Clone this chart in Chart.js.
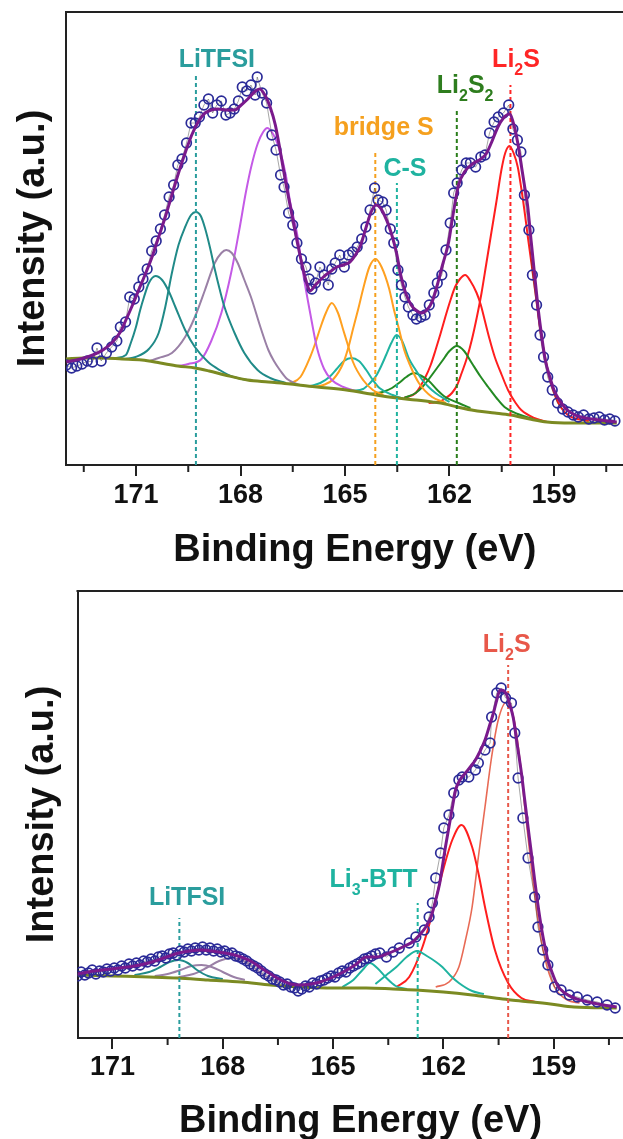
<!DOCTYPE html>
<html>
<head>
<meta charset="utf-8">
<title>S 2p XPS</title>
<script src="https://cdn.jsdelivr.net/npm/chart.js@4.4.1/dist/chart.umd.min.js"></script>
<style>
  html, body { margin: 0; padding: 0; background: #fff; overflow: hidden; }
  #wrap { position: relative; width: 623px; height: 1139px; overflow: hidden; }
  canvas { position: absolute; left: 0; }
  #topChart { top: 0; }
  #bottomChart { top: 578px; }
</style>
</head>
<body>
<div id="wrap">
  <canvas id="topChart" width="650" height="578"></canvas>
  <canvas id="bottomChart" width="650" height="575"></canvas>
</div>
<script>
// Binding energy ticks (eV)
const tickEnergies = [171, 168, 165, 162, 159];
const minorTickEnergies = [172.5, 169.5, 166.5, 163.5, 160.5, 157.5];

// ---------- top panel: [eV, intensity] ----------
const topMeasured = [[173.0,100],[172.85,97],[172.7,99],[172.55,101],[172.4,104],[172.25,103],[172.12,117],[172.0,104],[171.85,112],[171.7,118],[171.55,124],[171.45,138],[171.3,143],[171.18,168],[171.05,166],[170.92,178],[170.8,186],[170.68,196],[170.55,214],[170.42,224],[170.3,236],[170.18,250],[170.05,268],[169.92,280],[169.8,300],[169.68,306],[169.55,322],[169.42,342],[169.3,342],[169.18,348],[169.05,360],[168.92,366],[168.8,352],[168.68,360],[168.55,364],[168.42,350],[168.3,352],[168.18,356],[168.06,364],[167.95,378],[167.82,374],[167.7,380],[167.58,370],[167.52,388],[167.38,372],[167.25,362],[167.1,330],[166.98,315],[166.85,290],[166.75,278],[166.62,252],[166.5,240],[166.38,222],[166.25,206],[166.12,198],[166.03,186],[165.95,176],[165.85,182],[165.72,198],[165.6,190],[165.48,180],[165.38,196],[165.28,202],[165.15,210],[165.02,198],[164.9,210],[164.78,213],[164.65,218],[164.52,226],[164.4,238],[164.28,255],[164.15,277],[164.05,265],[163.92,263],[163.82,255],[163.7,236],[163.6,222],[163.48,195],[163.38,180],[163.28,168],[163.18,158],[163.05,150],[162.95,146],[162.82,148],[162.7,150],[162.58,160],[162.45,172],[162.35,182],[162.22,190],[162.1,215],[161.98,242],[161.88,272],[161.78,282],[161.65,295],[161.52,302],[161.4,302],[161.25,298],[161.1,308],[160.98,310],[160.85,332],[160.72,343],[160.6,348],[160.45,352],[160.3,360],[160.18,336],[160.05,325],[159.95,313],[159.85,270],[159.72,235],[159.62,190],[159.5,160],[159.4,130],[159.3,108],[159.18,88],[159.05,75],[158.9,62],[158.75,56],[158.6,53],[158.45,50],[158.3,48],[158.15,50],[158.0,46],[157.85,47],[157.7,48],[157.55,45],[157.4,46],[157.25,44]];
const topEnvelope = [[173.0,103],[172.6,106],[172.24,110],[171.95,115],[171.67,123],[171.45,133],[171.29,145],[171.1,160],[170.91,176],[170.72,192],[170.54,208],[170.35,228],[170.16,248],[169.97,270],[169.78,292],[169.59,312],[169.4,330],[169.2,344],[169.02,352],[168.84,355],[168.65,356],[168.4,355],[168.17,355],[167.98,360],[167.79,366],[167.6,373],[167.45,376],[167.3,370],[167.15,358],[167.0,340],[166.85,312],[166.7,282],[166.55,255],[166.4,228],[166.25,203],[166.1,182],[166.0,174],[165.85,180],[165.62,188],[165.4,194],[165.24,198],[165.05,200],[164.86,203],[164.7,210],[164.55,220],[164.4,237],[164.25,253],[164.11,260],[163.98,257],[163.87,250],[163.75,240],[163.63,227],[163.52,212],[163.4,190],[163.26,172],[163.1,160],[162.97,155],[162.8,152],[162.65,155],[162.5,163],[162.35,180],[162.2,200],[162.03,222],[161.9,250],[161.74,280],[161.55,294],[161.3,302],[161.1,306],[160.95,311],[160.8,322],[160.61,338],[160.45,347],[160.28,351],[160.15,340],[160.04,322],[159.94,300],[159.85,280],[159.76,260],[159.65,222],[159.55,188],[159.45,155],[159.35,128],[159.25,105],[159.12,88],[159.0,75],[158.85,65],[158.65,56],[158.4,50],[158.1,47],[157.7,45],[157.2,43]];
const topBackground = [[173.01,106],[172.5,107],[172.0,107],[171.4,106],[170.83,105],[170.3,102],[169.8,99],[169.3,97],[168.9,94],[168.45,90],[167.8,85],[167.2,83],[166.57,81],[165.8,78],[164.96,75],[164.11,70],[163.5,67],[162.97,65],[162.5,63],[162.12,61],[161.78,58],[161.2,54],[160.7,52],[160.25,50],[159.7,46],[159.2,43],[158.5,42],[157.2,42]];
const topLiTFSIa = [[171.6,107],[171.29,110],[171.15,122],[171.01,137],[170.88,155],[170.77,168],[170.63,182],[170.44,189],[170.25,185],[170.05,173],[169.87,158],[169.59,135],[169.31,118],[168.93,103],[168.6,95],[168.2,88],[167.8,85]];
const topLiTFSIb = [[171.3,106],[171.01,108],[170.63,116],[170.35,132],[170.16,158],[169.97,192],[169.78,220],[169.59,238],[169.42,250],[169.28,253],[169.14,249],[169.02,237],[168.88,218],[168.74,196],[168.6,176],[168.46,158],[168.17,132],[167.89,112],[167.51,95],[167.15,87],[166.7,82]];
const topMauve = [[170.6,104],[170.35,107],[169.97,112],[169.59,128],[169.31,148],[169.02,175],[168.74,202],[168.55,212],[168.41,215],[168.25,212],[168.08,202],[167.9,186],[167.7,168],[167.42,137],[167.2,115],[167.04,104],[166.85,94],[166.66,86],[166.3,80]];
const topViolet = [[169.8,99],[169.5,101],[169.12,106],[168.84,124],[168.55,152],[168.27,192],[168.02,238],[167.85,272],[167.68,300],[167.5,322],[167.35,333],[167.23,337],[167.05,330],[166.85,312],[166.7,290],[166.57,262],[166.38,232],[166.19,189],[166.0,152],[165.81,118],[165.6,96],[165.38,85],[165.05,78],[164.7,74]];
const topOrangeA = [[166.6,81],[166.28,88],[166.0,108],[165.85,122],[165.71,137],[165.55,152],[165.38,162],[165.2,152],[165.05,135],[164.9,118],[164.77,103],[164.48,85],[164.2,75],[163.9,70]];
const topBridgeS = [[165.9,78],[165.62,80],[165.33,86],[165.05,102],[164.9,118],[164.77,136],[164.62,156],[164.48,176],[164.3,198],[164.12,206],[163.95,198],[163.73,176],[163.6,156],[163.45,136],[163.3,115],[163.16,102],[162.88,82],[162.5,68],[162.1,62]];
const topTealA = [[166.0,79],[165.71,82],[165.45,88],[165.24,96],[165.03,104],[164.82,107],[164.6,104],[164.39,95],[164.2,85],[164.01,77],[163.63,70],[163.3,66]];
const topCS = [[164.8,74],[164.48,76],[164.28,82],[164.11,89],[163.96,99],[163.82,110],[163.67,122],[163.52,130],[163.36,124],[163.16,106],[162.97,95],[162.78,85],[162.6,78],[162.4,72],[162.0,63]];
const topGreenA = [[164.3,71],[163.92,73],[163.65,77],[163.45,82],[163.24,88],[163.02,92],[162.8,89],[162.59,84],[162.35,75],[162.12,68],[161.74,62],[161.4,57]];
const topLi2S2 = [[163.3,67],[162.97,72],[162.78,78],[162.59,86],[162.4,95],[162.21,104],[162.0,114],[161.79,119],[161.58,114],[161.36,102],[161.12,89],[160.89,78],[160.65,67],[160.42,58],[160.04,51],[159.6,46]];
const topRedA = [[163.3,67],[162.97,72],[162.69,88],[162.54,100],[162.4,115],[162.26,131],[162.12,148],[161.98,164],[161.84,178],[161.7,186],[161.55,190],[161.4,184],[161.22,172],[161.1,160],[160.99,145],[160.85,126],[160.7,108],[160.5,90],[160.32,75],[160.1,62],[159.94,55],[159.57,47],[159.2,43]];
const topLi2S = [[162.6,62],[162.31,63],[162.1,67],[161.93,72],[161.78,80],[161.65,92],[161.5,107],[161.36,125],[161.22,147],[161.08,172],[160.94,202],[160.8,232],[160.65,264],[160.51,295],[160.4,312],[160.28,319],[160.16,312],[160.04,298],[159.94,277],[159.85,255],[159.75,228],[159.66,205],[159.56,180],[159.47,155],[159.38,132],[159.28,112],[159.18,95],[159.09,82],[158.95,68],[158.81,58],[158.6,50],[158.43,47],[158.0,44]];

// marker lines (eV) and their top ends (intensity)
const topMarkerNames = ['LiTFSI', 'bridge S', 'C-S', 'Li_2S_2', 'Li_2S'];
const topMarkerEnergies = [169.28, 164.13, 163.51, 161.79, 160.25];
const topMarkerTops = [390, 313, 282, 355, 380];

// ---------- bottom panel ----------
const botMeasured = [[171.95,62],[171.85,66],[171.75,63],[171.65,65],[171.55,68],[171.45,64],[171.35,67],[171.25,66],[171.15,69],[171.05,67],[170.95,70],[170.85,68],[170.75,72],[170.65,70],[170.55,74],[170.45,72],[170.35,75],[170.25,73],[170.15,77],[170.05,76],[169.95,79],[169.85,77],[169.75,81],[169.65,82],[169.55,80],[169.45,84],[169.35,85],[169.25,83],[169.15,87],[169.05,86],[168.95,89],[168.85,87],[168.75,90],[168.65,88],[168.55,91],[168.45,88],[168.35,90],[168.25,87],[168.15,89],[168.05,86],[167.95,87],[167.85,84],[167.75,85],[167.65,82],[167.55,81],[167.45,79],[167.35,77],[167.25,74],[167.15,72],[167.05,70],[166.95,67],[166.85,64],[166.75,62],[166.65,59],[166.55,58],[166.45,56],[166.35,53],[166.25,54],[166.15,51],[166.05,50],[165.95,47],[165.85,49],[165.75,52],[165.65,51],[165.55,55],[165.45,54],[165.35,57],[165.25,58],[165.15,60],[165.05,62],[164.95,61],[164.85,65],[164.75,67],[164.65,66],[164.55,70],[164.45,72],[164.35,74],[164.25,76],[164.15,79],[164.05,80],[163.95,82],[163.85,84],[163.73,85],[163.55,81],[163.37,86],[163.2,90],[162.93,95],[162.75,101],[162.52,108],[162.39,121],[162.3,135],[162.21,160],[162.08,185],[161.99,210],[161.85,223],[161.72,245],[161.58,258],[161.49,261],[161.31,261],[161.13,268],[161.05,275],[160.87,288],[160.73,295],[160.69,321],[160.55,345],[160.43,350],[160.31,340],[160.15,335],[160.06,305],[159.97,260],[159.84,220],[159.7,180],[159.52,141],[159.43,111],[159.3,88],[159.16,73],[158.98,51],[158.8,48],[158.58,43],[158.36,41],[158.09,38],[157.82,36],[157.55,33],[157.33,30]];
const botEnvelope = [[171.95,64],[171.5,67],[170.81,70],[170.4,72],[169.92,76],[169.6,80],[169.2,85],[168.9,87],[168.57,88],[168.3,87],[168.12,86],[167.8,84],[167.5,81],[167.2,76],[166.96,70],[166.7,64],[166.42,58],[166.15,54],[165.88,53],[165.6,54],[165.35,56],[165.0,61],[164.72,66],[164.4,73],[164.09,81],[163.82,81],[163.55,84],[163.28,88],[163.05,92],[162.84,96],[162.65,103],[162.48,111],[162.33,122],[162.21,138],[162.1,155],[162.03,171],[161.95,190],[161.85,211],[161.75,232],[161.67,248],[161.55,258],[161.4,265],[161.25,272],[161.13,278],[161.0,287],[160.87,298],[160.75,312],[160.64,325],[160.55,338],[160.46,348],[160.35,347],[160.28,343],[160.2,334],[160.1,320],[160.0,295],[159.88,265],[159.79,238],[159.7,211],[159.61,185],[159.52,158],[159.43,133],[159.34,111],[159.25,93],[159.16,78],[159.02,63],[158.89,52],[158.7,45],[158.45,40],[158.18,37],[157.8,34],[157.29,31]];
const botBackground = [[171.95,63],[171.0,62],[170.0,61],[169.23,60],[168.4,58],[167.5,56],[166.7,53],[165.9,51],[165.0,50],[164.1,50],[163.37,49],[162.75,48],[162.0,46],[161.22,43],[160.6,40],[160.17,38],[159.6,36],[159.09,34],[158.45,31],[157.29,30]];
const botTeal = [[170.4,63],[170.0,66],[169.7,71],[169.45,76],[169.2,78],[168.95,75],[168.7,68],[168.4,62],[168.0,59]];
const botMauveA = [[169.85,62],[169.5,64],[169.15,68],[168.85,72],[168.58,73],[168.3,71],[168.0,66],[167.7,61],[167.4,58]];
const botMauveB = [[169.2,61],[168.8,64],[168.45,70],[168.1,77],[167.77,80],[167.45,77],[167.15,70],[166.85,62],[166.5,55]];
const botTealA = [[164.75,51],[164.45,58],[164.2,68],[164.0,75],[163.8,70],[163.55,60],[163.3,52],[163.0,49]];
const botLi3BTT = [[163.85,54],[163.55,63],[163.28,71],[163.0,81],[162.72,87],[162.45,82],[162.2,76],[162.03,71],[161.8,62],[161.58,55],[161.22,47],[160.9,44]];
const botRedA = [[163.28,51],[162.93,61],[162.57,91],[162.3,125],[162.03,165],[161.76,198],[161.51,213],[161.22,191],[161.05,165],[160.87,131],[160.6,88],[160.24,55],[159.88,40],[159.5,36]];
const botLi2S = [[162.21,51],[161.85,56],[161.58,71],[161.4,98],[161.22,131],[161.05,181],[160.87,231],[160.69,281],[160.51,318],[160.28,336],[160.06,315],[159.88,265],[159.79,231],[159.61,171],[159.43,118],[159.25,81],[158.98,51],[158.63,38],[158.3,35]];

const botMarkerNames = ['LiTFSI', 'Li_3-BTT', 'Li_2S'];
const botMarkerEnergies = [169.18, 162.70, 160.24];
const botMarkerTops = [120, 135, 373];

const FONT = 'Arial, "Liberation Sans", Helvetica, sans-serif';
const toPts = pairs => pairs.map(([x, y]) => ({ x, y }));

function curve(pairs, color, width) {
    return {
        data: toPts(pairs),
        showLine: true,
        borderColor: color,
        borderWidth: width,
        pointRadius: 0,
        fill: false,
        cubicInterpolationMode: 'monotone'
    };
}

function marker(energy, top, color) {
    return {
        data: [{ x: energy, y: 0 }, { x: energy, y: top }],
        showLine: true,
        borderColor: color,
        borderWidth: 2,
        borderDash: [4, 3],
        pointRadius: 0
    };
}

function circles(pairs) {
    return {
        data: toPts(pairs),
        showLine: true,
        borderColor: 'rgba(50,50,50,0.55)',
        borderWidth: 0.8,
        pointRadius: 4.8,
        pointBorderColor: '#2b2b98',
        pointBorderWidth: 1.7,
        pointBackgroundColor: 'rgba(0,0,0,0)'
    };
}

// draws "Li_2S_2" style text, "_" makes the next char a subscript
function drawRich(ctx, text, cx, baseline, size, color) {
    const parts = [];
    for (let i = 0; i < text.length; i++) {
        if (text[i] === '_' && i + 1 < text.length) { parts.push([text[i + 1], true]); i++; }
        else parts.push([text[i], false]);
    }
    const big = `bold ${size}px ${FONT}`;
    const small = `bold ${Math.round(size * 0.62)}px ${FONT}`;
    let total = 0;
    parts.forEach(([c, sub]) => { ctx.font = sub ? small : big; total += ctx.measureText(c).width; });
    let x = cx - total / 2;
    ctx.fillStyle = color;
    ctx.textBaseline = 'alphabetic';
    ctx.textAlign = 'left';
    parts.forEach(([c, sub]) => {
        ctx.font = sub ? small : big;
        ctx.fillText(c, x, baseline + (sub ? size * 0.3 : 0));
        x += ctx.measureText(c).width;
    });
}

const framePlugin = {
    id: 'frame',
    afterDraw(chart, args, opts) {
        const { ctx, chartArea, scales } = chart;
        ctx.save();
        ctx.strokeStyle = '#222';
        ctx.lineWidth = 2;
        ctx.beginPath();
        ctx.moveTo(chartArea.left - 1, chartArea.top);
        ctx.lineTo(chartArea.right, chartArea.top);
        ctx.stroke();
        minorTickEnergies.forEach(e => {
            const px = scales.x.getPixelForValue(e);
            if (px < chartArea.left || px > chartArea.right) return;
            ctx.beginPath();
            ctx.moveTo(px, chartArea.bottom);
            ctx.lineTo(px, chartArea.bottom + 7);
            ctx.stroke();
        });
        (opts.labels || []).forEach(l => {
            drawRich(ctx, l.text, scales.x.getPixelForValue(l.x), scales.y.getPixelForValue(l.y), l.size, l.color);
        });
        ctx.restore();
    }
};

function makePanel(canvasId, cfg) {
    const canvas = document.getElementById(canvasId);
    return new Chart(canvas.getContext('2d'), {
        type: 'scatter',
        data: { datasets: cfg.datasets },
        options: {
            responsive: false,
            animation: false,
            layout: { padding: { left: 0, top: cfg.areaTop, right: 0, bottom: 0 } },
            plugins: {
                legend: { display: false },
                tooltip: { enabled: false },
                frame: { labels: cfg.labels }
            },
            scales: {
                x: {
                    type: 'linear',
                    reverse: true,
                    min: cfg.xMin,
                    max: cfg.xMax,
                    afterBuildTicks: scale => { scale.ticks = tickEnergies.map(v => ({ value: v })); },
                    afterFit: scale => { scale.height = cfg.xAxisHeight; },
                    grid: { display: true, drawOnChartArea: false, drawTicks: true, tickLength: 11, color: '#222', lineWidth: 2 },
                    border: { display: true, width: 2, color: '#222' },
                    ticks: {
                        autoSkip: false, maxRotation: 0, padding: cfg.tickPad, color: '#111',
                        font: { family: FONT, size: 27, weight: 'bold' }
                    },
                    title: {
                        display: true, text: 'Binding Energy (eV)', color: '#111',
                        font: { family: FONT, size: 38, weight: 'bold' },
                        padding: { top: 0, bottom: cfg.titlePad }
                    }
                },
                y: {
                    type: 'linear',
                    min: 0,
                    max: cfg.yMax,
                    afterFit: scale => { scale.width = cfg.yAxisWidth; },
                    grid: { display: false },
                    border: { display: true, width: 2, color: '#222' },
                    ticks: { display: false },
                    title: {
                        display: true, text: 'Intensity (a.u.)', color: '#111',
                        font: { family: FONT, size: 38, weight: 'bold' },
                        padding: { top: cfg.yTitlePad, bottom: 0 }
                    }
                }
            }
        },
        plugins: [framePlugin]
    });
}

// top panel
const topColors = ['#2a9d9d', '#f5a01e', '#1fb3a0', '#2a7d1a', '#ff2626'];
const topLabelSpots = [[168.68, 398], [163.89, 330], [163.28, 289], [161.55, 372], [160.09, 398]];
makePanel('topChart', {
    areaTop: 12, xMin: 156.43, xMax: 173.01, yMax: 453,
    xAxisHeight: 113, yAxisWidth: 66, tickPad: 3, titlePad: 5, yTitlePad: 11,
    datasets: [
        curve(topEnvelope, '#7a1a8c', 3),
        circles(topMeasured),
        ...topMarkerEnergies.map((e, i) => marker(e, topMarkerTops[i], topColors[i])),
        curve(topBackground, '#7b8a22', 3),
        curve(topLiTFSIa, '#208a88', 2),
        curve(topLiTFSIb, '#208a88', 2),
        curve(topMauve, '#9a80a6', 2),
        curve(topViolet, '#c45ae6', 2),
        curve(topOrangeA, '#ffa020', 2),
        curve(topBridgeS, '#ffa020', 2),
        curve(topTealA, '#1fb3a0', 2),
        curve(topCS, '#1fb3a0', 2),
        curve(topGreenA, '#238a23', 2),
        curve(topLi2S2, '#238a23', 2),
        curve(topRedA, '#ff1e1e', 2),
        curve(topLi2S, '#ff1e1e', 2)
    ],
    labels: topMarkerNames.map((t, i) => ({
        text: t, x: topLabelSpots[i][0], y: topLabelSpots[i][1], size: 25,
        color: i === 3 ? '#2e7d1e' : topColors[i]
    }))
});

// bottom panel
const botColors = ['#2a9d9d', '#1fb3a0', '#e8584a'];
const botLabelSpots = [[168.97, 133], [163.9, 151], [160.28, 386]];
makePanel('bottomChart', {
    areaTop: 13, xMin: 156.56, xMax: 171.95, yMax: 447,
    xAxisHeight: 115, yAxisWidth: 77.5, tickPad: 2, titlePad: 9, yTitlePad: 20,
    datasets: [
        curve(botEnvelope, '#7a1a8c', 3),
        circles(botMeasured),
        ...botMarkerEnergies.map((e, i) => marker(e, botMarkerTops[i], botColors[i])),
        curve(botBackground, '#7b8a22', 3),
        curve(botTeal, '#208a88', 2),
        curve(botMauveA, '#9a80a6', 2),
        curve(botMauveB, '#9a80a6', 2),
        curve(botTealA, '#1fb3a0', 2),
        curve(botLi3BTT, '#1fb3a0', 2),
        curve(botRedA, '#ff1e1e', 2),
        curve(botLi2S, '#e86a55', 1.6)
    ],
    labels: botMarkerNames.map((t, i) => ({
        text: t, x: botLabelSpots[i][0], y: botLabelSpots[i][1], size: 25, color: botColors[i]
    }))
});
</script>
</body>
</html>
